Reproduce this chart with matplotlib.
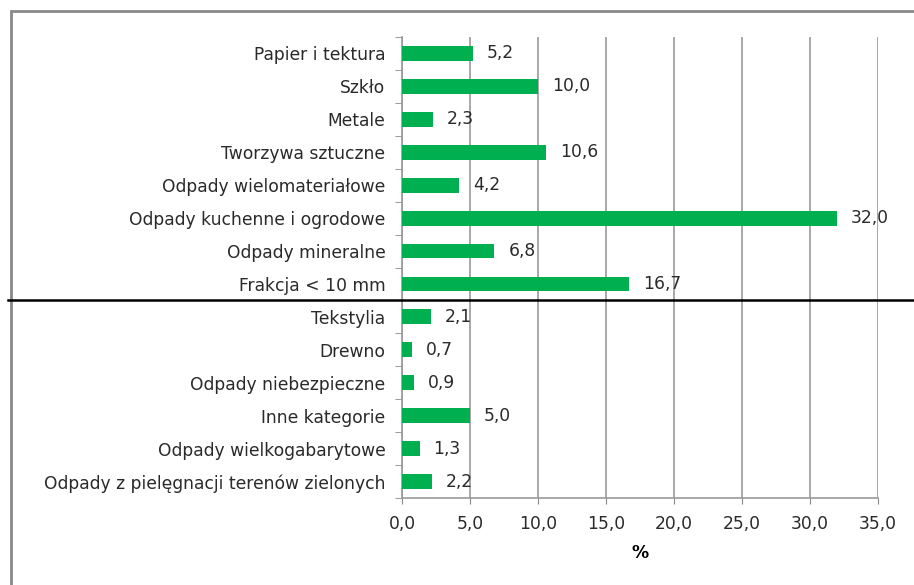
import numpy as np
import matplotlib.pyplot as plt
import matplotlib.transforms as mtransforms
from matplotlib.patches import Rectangle
from matplotlib.lines import Line2D

plt.rcParams['font.family'] = ['DejaVu Sans']

#===========================================================
#               data
#===========================================================
categories = ['Papier i tektura', 'Szkło', 'Metale', 'Tworzywa sztuczne',
              'Odpady wielomateriałowe', 'Odpady kuchenne i ogrodowe',
              'Odpady mineralne', 'Frakcja < 10 mm', 'Tekstylia', 'Drewno',
              'Odpady niebezpieczne', 'Inne kategorie',
              'Odpady wielkogabarytowe',
              'Odpady z pielęgnacji terenów zielonych']
values = [5.2, 10.0, 2.3, 10.6, 4.2, 32.0, 6.8, 16.7, 2.1, 0.7, 0.9, 5.0,
          1.3, 2.2]
xticks = [0, 5, 10, 15, 20, 25, 30, 35]
n_main = 8  # categories above the black separator line

fs = 12.3
tc = '#2a2a2a'

#===========================================================
#               plot
#===========================================================
fig = plt.figure(figsize=(9.14, 5.85), dpi=100)
ax = fig.add_axes([402/914, 1-498/585, 476/914, 461/585])

y = np.arange(len(categories))
ax.barh(y, values, height=0.45, color='#00B050', zorder=3)
ax.set_ylim(len(categories)-0.5, -0.5)
ax.set_xlim(0, 35)

for yi, v in zip(y, values):
    ax.annotate(('%.1f' % v).replace('.', ','), (v, yi), xytext=(10, 0),
                textcoords='offset points', va='center', ha='left',
                fontsize=fs, color=tc)

ax.set_xticks(xticks)
ax.set_xticklabels([('%.1f' % t).replace('.', ',') for t in xticks],
                   fontsize=fs, color=tc)
ax.set_yticks(y)
ax.set_yticklabels(categories, fontsize=fs, color=tc)
ax.tick_params(axis='y', length=0, pad=12)
ax.tick_params(axis='x', length=4, color='#888888', pad=8)
ax.set_yticks(np.arange(-0.5, len(categories)), minor=True)
ax.tick_params(axis='y', which='minor', length=5, color='#888888')
ax.set_xlabel('%', fontsize=fs, fontweight='bold', labelpad=8)

ax.grid(axis='x', color='#999999', lw=1.2, zorder=0)
for s in ['top', 'right']:
    ax.spines[s].set_visible(False)
for s in ['left', 'bottom']:
    ax.spines[s].set_color('#999999')
    ax.spines[s].set_linewidth(1.2)

# separator line across the whole figure
trans = mtransforms.blended_transform_factory(fig.transFigure, ax.transData)
fig.add_artist(Line2D([8/914, 913/914], [n_main-0.5, n_main-0.5],
                      transform=trans, color='black', lw=1.8, zorder=5))

# outer border (cut off at right and bottom)
fig.add_artist(Rectangle((11/914, -0.05), 1.1, 1-11/585+0.05,
                         transform=fig.transFigure, fill=False,
                         edgecolor='#888888', lw=2))

plt.savefig('out.png', dpi=100)
